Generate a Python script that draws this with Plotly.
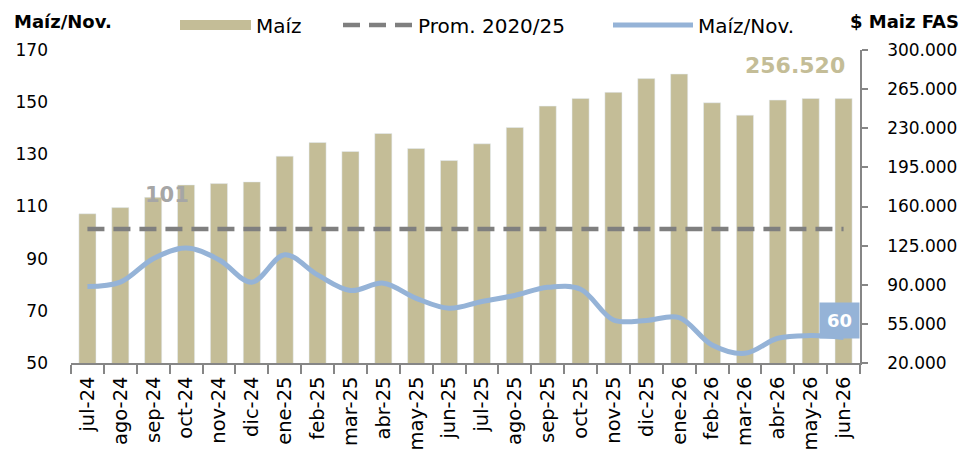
import plotly.graph_objects as go

cats = ["jul-24", "ago-24", "sep-24", "oct-24", "nov-24", "dic-24",
        "ene-25", "feb-25", "mar-25", "abr-25", "may-25", "jun-25",
        "jul-25", "ago-25", "sep-25", "oct-25", "nov-25", "dic-25",
        "ene-26", "feb-26", "mar-26", "abr-26", "may-26", "jun-26"]

maiz_fas = [153500, 159000, 168200, 179300, 180500, 182000,
            205000, 217200, 209200, 225300, 211900, 201100,
            216100, 230700, 249800, 256700, 262100, 274400,
            278500, 252800, 241700, 255200, 256600, 256520]

maiz_nov = [79.3, 81.0, 90.0, 94.1, 89.6, 81.0,
            91.5, 83.8, 77.8, 80.6, 74.8, 71.0,
            73.6, 75.9, 79.0, 78.3, 66.5, 66.3,
            67.4, 56.9, 53.7, 59.5, 60.5, 59.8]

prom = [101.4] * len(cats)

FONT = "DejaVu Sans"
TAN = "#c4bd97"
BLUE = "#95b3d7"
GREY = "#7f7f7f"

fig = go.Figure()

# bars on primary (right side) axis so lines on overlay draw above them
fig.add_trace(go.Bar(x=cats, y=maiz_fas, marker_color=TAN, width=0.52,
                     name="Maíz", showlegend=False, yaxis="y"))
# legend proxy for bars
fig.add_trace(go.Scatter(x=[None], y=[None], mode="lines", name="Maíz",
                         line=dict(color=TAN, width=12), yaxis="y2",
                         legend="legend"))
fig.add_trace(go.Scatter(x=cats, y=prom, mode="lines", name="Prom. 2020/25",
                         line=dict(color=GREY, width=4.5, dash="17px,9px"),
                         yaxis="y2", legend="legend2"))
fig.add_trace(go.Scatter(x=cats, y=maiz_nov, mode="lines", name="Maíz/Nov.",
                         line=dict(color=BLUE, width=5, shape="spline", smoothing=1.0),
                         yaxis="y2", legend="legend3"))

W, H, L, T = 789, 313, 71, 50


def px_x(px):
    return (px - L) / W


def px_y(py):
    return (T + H - py) / H


annotations = [
    dict(x=px_x(12), y=px_y(22), xref="paper", yref="paper", xanchor="left",
         yanchor="middle", text="<b>Maíz/Nov.</b>", showarrow=False,
         font=dict(family=FONT, size=18, color="#000000")),
    dict(x=px_x(848), y=px_y(22), xref="paper", yref="paper", xanchor="left",
         yanchor="middle", text="<b>$ Maiz FAS</b>", showarrow=False,
         font=dict(family=FONT, size=18, color="#000000")),
    dict(x=cats[2], y=prom[2], xref="x", yref="y2", xshift=14, yshift=34,
         text="<b>%d</b>" % round(prom[2]), showarrow=False,
         font=dict(family=FONT, size=21, color="#a6a6a6")),
    dict(x=cats[-1], y=maiz_fas[-1], xref="x", yref="y", xshift=-49, yshift=33,
         text="<b>" + f"{maiz_fas[-1]:,.0f}".replace(",", ".") + "</b>",
         showarrow=False, font=dict(family=FONT, size=22, color=TAN)),
    dict(x=cats[-1], y=maiz_nov[-1], xref="x", yref="y2", xshift=-4, yshift=17,
         text="<b>%d</b>" % round(maiz_nov[-1]), showarrow=False,
         bgcolor=BLUE, borderpad=7,
         font=dict(family=FONT, size=18, color="#ffffff")),
]


def leg(xpx, itemw):
    return dict(orientation="h", xref="container", yref="container",
                x=xpx / 971, y=1 - 25 / 454, xanchor="left", yanchor="middle",
                itemwidth=itemw, font=dict(family=FONT, size=20, color="#000000"),
                bgcolor="rgba(0,0,0,0)", borderwidth=0)


fig.update_layout(
    width=971, height=454,
    margin=dict(l=L, r=971 - L - W, t=T, b=454 - T - H, autoexpand=False),
    paper_bgcolor="white", plot_bgcolor="white",
    separators=",.",
    barmode="overlay",
    font=dict(family=FONT, size=17, color="#000000"),
    showlegend=True,
    legend=leg(175, 71),
    legend2=leg(338, 70),
    legend3=leg(608, 80),
    xaxis=dict(type="category", range=[-0.5, len(cats) - 0.5],
               showline=True, linecolor="#868686", linewidth=1.5,
               ticks="outside", ticklen=9, tickcolor="#868686", tickwidth=1.5,
               tickson="boundaries", tickangle=-90, showgrid=False,
               ticklabelstandoff=4,
               tickfont=dict(family=FONT, size=19.5, color="#000000")),
    yaxis=dict(side="right", range=[20000, 300000], dtick=35000, tick0=20000,
               tickformat=",.0f", showgrid=False, zeroline=False,
               showline=True, linecolor="#868686", linewidth=1.5,
               ticks="outside", ticklen=6, tickcolor="#868686", tickwidth=1.5,
               ticklabelstandoff=16,
               tickfont=dict(family=FONT, size=17, color="#000000")),
    yaxis2=dict(side="left", overlaying="y", range=[50, 170], dtick=20, tick0=50,
                showgrid=False, zeroline=False, showline=False, ticks="",
                ticklabelstandoff=22,
                tickfont=dict(family=FONT, size=17, color="#000000")),
    annotations=annotations,
)

fig.write_html("out.html", config={"displayModeBar": False},
               post_script="document.body.style.margin='0';"
                           "document.body.style.overflow='hidden';")
